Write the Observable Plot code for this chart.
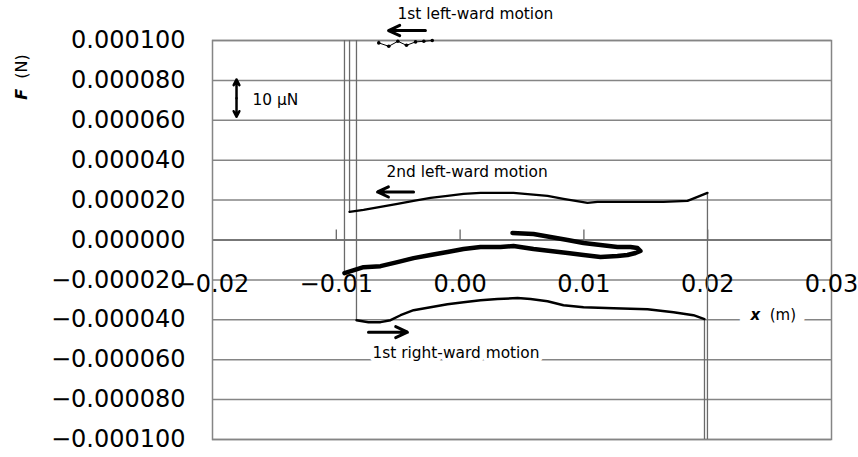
<!DOCTYPE html>
<html><head><meta charset="utf-8">
<script src="https://cdn.jsdelivr.net/npm/d3@7"></script>
<script src="https://cdn.jsdelivr.net/npm/@observablehq/plot@0.6"></script>
<style>html,body{margin:0;padding:0;background:#fff}svg{display:block}</style>
</head><body><div id="chart"></div>
<script>
// ---- data ----
const xDomain = [-0.02, 0.03];
const yDomain = [-0.0001, 0.0001];
const xTicks = [-0.02, -0.01, 0.00, 0.01, 0.02, 0.03];
const yTicks = [-0.0001, -0.00008, -0.00006, -0.00004, -0.00002, 0, 0.00002, 0.00004, 0.00006, 0.00008, 0.0001];

// 1st left-ward motion (near the top, clipped)
const left1 = [[-0.00657,0.0000988],[-0.00576,0.0000971],[-0.00503,0.0000996],[-0.00433,0.0000976],[-0.00360,0.0000993],[-0.00293,0.0000996],[-0.00225,0.0001000]];
// 1st right-ward motion
const right1 = [[-0.00837,-0.0000402],[-0.00740,-0.0000412],[-0.00643,-0.0000412],[-0.00562,-0.0000402],[-0.00481,-0.0000377],[-0.00376,-0.0000352],[-0.00239,-0.0000337],[-0.00102,-0.0000322],[0.00028,-0.0000312],[0.00165,-0.0000302],[0.00302,-0.0000296],[0.00464,-0.0000291],[0.00569,-0.0000296],[0.00706,-0.0000307],[0.00835,-0.0000327],[0.00997,-0.0000337],[0.01239,-0.0000342],[0.01514,-0.0000347],[0.01724,-0.0000362],[0.01885,-0.0000377],[0.01974,-0.0000397]];
// 2nd left-ward motion
const left2 = [[0.01998,0.0000236],[0.01918,0.0000216],[0.01837,0.0000196],[0.01643,0.0000191],[0.01376,0.0000191],[0.01110,0.0000191],[0.01029,0.0000186],[0.00835,0.0000206],[0.00706,0.0000221],[0.00431,0.0000236],[0.00165,0.0000236],[0.00028,0.0000231],[-0.00102,0.0000221],[-0.00239,0.0000211],[-0.00376,0.0000196],[-0.00506,0.0000181],[-0.00643,0.0000166],[-0.00780,0.0000151],[-0.00893,0.0000141]];
// thick loop (final motion)
const loop = [[-0.00934,-0.0000166],[-0.00780,-0.0000136],[-0.00643,-0.0000131],[-0.00506,-0.0000111],[-0.00376,-0.0000091],[-0.00239,-0.0000075],[-0.00102,-0.0000060],[0.00028,-0.0000045],[0.00165,-0.0000035],[0.00326,-0.0000035],[0.00431,-0.0000030],[0.00593,-0.0000045],[0.00730,-0.0000055],[0.00868,-0.0000065],[0.00997,-0.0000075],[0.01134,-0.0000085],[0.01271,-0.0000080],[0.01352,-0.0000075],[0.01417,-0.0000065],[0.01457,-0.0000055],[0.01433,-0.0000040],[0.01376,-0.0000035],[0.01271,-0.0000035],[0.01134,-0.0000025],[0.00997,-0.0000015],[0.00868,0.0000000],[0.00730,0.0000015],[0.00593,0.0000030],[0.00423,0.0000035]];

// annotations
const labels = [
  {x: -0.00506, y: 0.0001131, text: "1st left-ward motion"},
  {x: -0.00595, y: 0.0000339, text: "2nd left-ward motion"},
  {x: -0.00708, y: -0.0000565, text: "1st right-ward motion"},
  {x: -0.01677, y: 0.0000699, text: "10 \u03bcN"}
];
const arrows = [
  {x1: -0.00280, y1: 0.0001050, x2: -0.00578, y2: 0.0001050},
  {x1: -0.00376, y1: 0.0000241, x2: -0.00667, y2: 0.0000241},
  {x1: -0.00740, y1: -0.0000462, x2: -0.00425, y2: -0.0000462}
];
const scaleBar = {x: -0.01806, y1: 0.0000618, y2: 0.0000804};
const xTitle = {x: 0.02346, y: -0.0000377, text: "x\u00a0\u00a0(m)"};
const yTitle = {x: -0.03543, y: 0.0000817, text: "F\u00a0\u00a0(N)"};

// ---- helpers ----
const fmtY = v => (v < -1e-12 ? "\u2212" : "") + Math.abs(v).toFixed(6);
const fmtX = v => (v < -1e-12 ? "\u2212" : "") + Math.abs(v).toFixed(2);
const toPts = a => a.map(([x, y]) => ({x, y}));

const spurs = [
  {x: loop[0][0], y1: loop[0][1], y2: yDomain[1]},
  {x: left2[left2.length-1][0], y1: left2[left2.length-1][1], y2: yDomain[1]},
  {x: right1[0][0], y1: right1[0][1], y2: yDomain[1]},
  {x: right1[right1.length-1][0], y1: right1[right1.length-1][1], y2: yDomain[0]},
  {x: left2[0][0], y1: left2[0][1], y2: yDomain[0]},
  {x: left1[0][0], y1: left1[0][1], y2: yDomain[1]}
];
const mid = (scaleBar.y1 + scaleBar.y2) / 2;

const chart = Plot.plot({
  width: 858, height: 457,
  marginLeft: 212, marginRight: 27, marginTop: 40, marginBottom: 18,
  x: {domain: xDomain, axis: null},
  y: {domain: yDomain, axis: null},
  style: {fontFamily: "DejaVu Sans", background: "white", color: "black"},
  marks: [
    Plot.ruleY(yTicks.filter(d => d !== 0), {y: d => d, stroke: "#858585", strokeWidth: 1.5}),
    Plot.ruleY([0], {y: d => d, stroke: "#4a4a4a", strokeWidth: 1.5}),
    Plot.frame({stroke: "#858585", strokeWidth: 1.5}),
    Plot.ruleX(xTicks.slice(1, -1), {x: d => d, y1: d => 0, y2: d => 0, insetBottom: 10, stroke: "#666", strokeWidth: 1.3}),
    Plot.axisY(yTicks, {tickFormat: fmtY, tickSize: 0, tickPadding: 27, fontSize: 24, label: null}),
    Plot.text(xTicks, {x: d => d, y: d => 0, dy: 44, text: fmtX, fontSize: 24}),
    Plot.ruleX(spurs, {x: "x", y1: "y1", y2: "y2", stroke: "#6a6a6a", strokeWidth: 1.3}),
    Plot.line(toPts(left1), {x: "x", y: "y", stroke: "black", strokeWidth: 1}),
    Plot.dot(toPts(left1), {x: "x", y: "y", r: 1.8, fill: "black"}),
    Plot.line(toPts(right1), {x: "x", y: "y", stroke: "black", strokeWidth: 2.4, curve: "linear"}),
    Plot.line(toPts(left2), {x: "x", y: "y", stroke: "black", strokeWidth: 2.4}),
    Plot.line(toPts(loop), {x: "x", y: "y", stroke: "black", strokeWidth: 4.5, strokeLinejoin: "round"}),
    Plot.arrow(arrows, {x1: "x1", y1: "y1", x2: "x2", y2: "y2", stroke: "black", strokeWidth: 3, headLength: 9, headAngle: 50}),
    Plot.arrow([scaleBar], {x1: "x", y1: d => mid, x2: "x", y2: "y1", stroke: "black", strokeWidth: 2.5, headLength: 8, headAngle: 55}),
    Plot.arrow([scaleBar], {x1: "x", y1: d => mid, x2: "x", y2: "y2", stroke: "black", strokeWidth: 2.5, headLength: 8, headAngle: 55}),
    Plot.text(labels, {x: "x", y: "y", text: "text", textAnchor: "start", fontSize: 15.4, fill: "black", stroke: "white", strokeWidth: 8}),
    Plot.text([xTitle], {x: "x", y: "y", text: "text", textAnchor: "start", fontSize: 15, fill: "black", stroke: "white", strokeWidth: 20}),
    Plot.text([yTitle], {x: "x", y: "y", text: "text", rotate: -90, textAnchor: "middle", fontSize: 16, fill: "black"})
  ]
});
document.getElementById("chart").appendChild(chart);

// italic bold variable symbols
d3.select(chart).selectAll("text").each(function() {
  const t = this.textContent;
  if (t === xTitle.text || t === yTitle.text) {
    const sym = t.charAt(0), rest = t.slice(1);
    const sel = d3.select(this);
    sel.text(null);
    sel.append("tspan").attr("font-style", "italic").attr("font-weight", "bold").text(sym);
    sel.append("tspan").text(rest);
  }
});
</script>
</body></html>
